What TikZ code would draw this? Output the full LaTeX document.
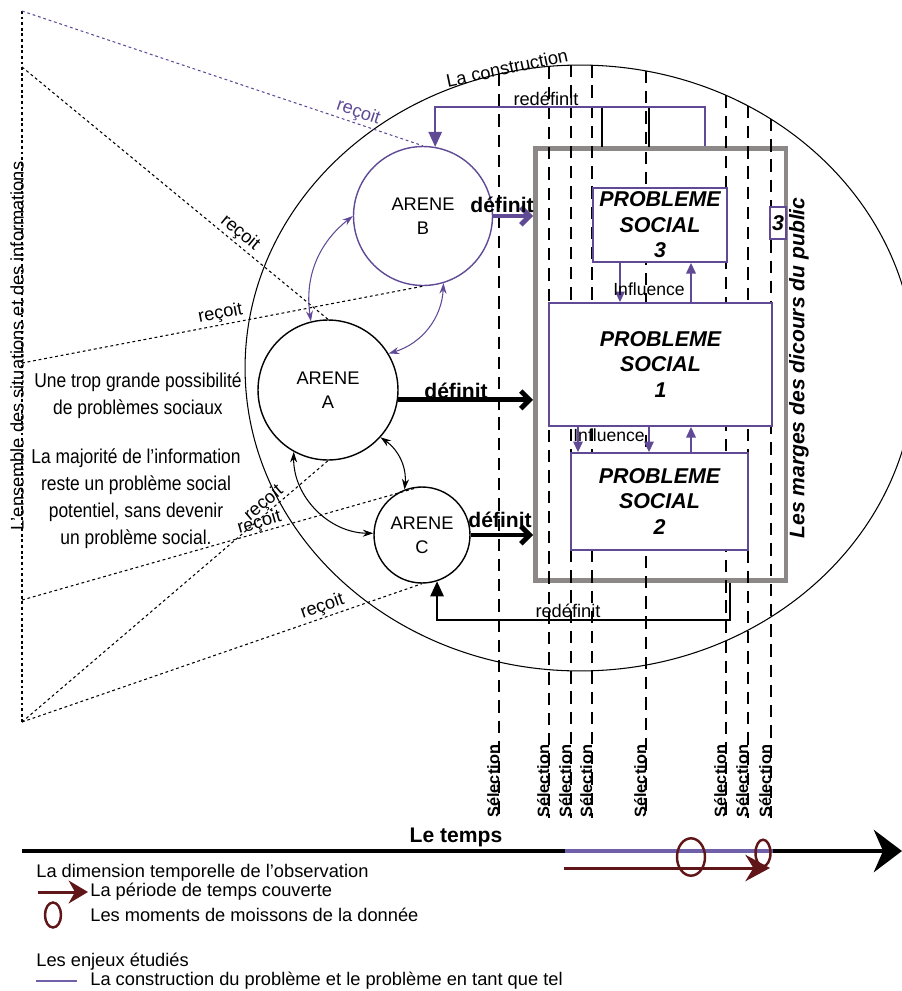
\documentclass[tikz,border=0pt]{standalone}
\usepackage{fontspec}
\setmainfont{Liberation Sans}
\newfontfamily\etroite[FakeStretch=0.87]{Liberation Sans}
\usetikzlibrary{arrows.meta}
\definecolor{mauve}{RGB}{96,74,150}
\definecolor{lilas}{RGB}{112,96,170}
\definecolor{bordeaux}{RGB}{96,22,24}
\definecolor{grisbord}{RGB}{140,136,136}
\newcommand{\fsz}[2]{\fontsize{#1}{#2}\selectfont}
\begin{document}
\begin{tikzpicture}[x=0.02cm, y=-0.02cm,
  arene/.style={circle, draw, fill=white, line width=0.8pt, inner sep=0pt, align=center, font=\fsz{10.4pt}{13.5pt}},
  probleme/.style={draw=mauve, fill=white, line width=1.1pt, align=center, inner sep=0pt, font=\bfseries\itshape\fsz{12.2pt}{14.5pt}},
  recu/.style={line width=0.6pt, dash pattern=on 1.6pt off 1.6pt},
  lbl/.style={font=\fsz{10.4pt}{12pt}, inner sep=1pt},
  gras/.style={font=\bfseries\fsz{12pt}{14pt}, inner sep=0pt},
  defin/.style={line width=2.8pt, -{Straight Barb[length=5pt,width=10pt]}},
  infl/.style={mauve, line width=0.6pt, -{Triangle[length=6pt,width=5.5pt]}},
  redef/.style={line width=1.1pt, -{Triangle[length=8.5pt,width=7.5pt]}},
  echange/.style={line width=0.6pt, <->, >={Stealth[length=6pt,width=4pt]}},
  selec/.style={line width=0.6pt, dash pattern=on 7pt off 4.5pt},
  legende/.style={anchor=west, inner sep=0pt, font=\fsz{10.4pt}{12pt}}]
\useasboundingbox (0,0) rectangle (902,991);
\clip (0,0) rectangle (902,991);

% la construction
\draw[line width=0.6pt] (580,368) ellipse [x radius=6.7cm, y radius=6.06cm];
\node[lbl, rotate=12] (constr) at (507,68) {La construction};

% marges du public
\node[draw=grisbord, line width=2.8pt, minimum width=5.01cm, minimum height=8.65cm, inner sep=0pt] (cadre) at (660.75,364.25) {};
\node[rotate=90, font=\bfseries\itshape\fsz{12pt}{14pt}] (marges) at (799,368) {Les marges des dicours du public};

% moments de selection
\foreach \x in {499,549,571,592,646,726,748,771} {
  \draw[selec] (\x,{368-303*sqrt(1-((\x-580)/335)^2)}) -- (\x,818);
  \node[rotate=90, anchor=base west, inner sep=0pt, font=\bfseries\fsz{9.3pt}{11pt}] (sel\x) at (\x,818) {Sélection};
}
\draw[line width=0.6pt] (602,107) -- (602,147);
\draw[line width=1.2pt] (649,107) -- (649,147);

% arenes
\node[arene, draw=mauve, minimum size=2.78cm] (B) at (423,216) {ARENE\\B};
\node[arene, minimum size=2.8cm] (A) at (328,390) {ARENE\\A};
\node[arene, minimum size=1.92cm] (C) at (422,535) {ARENE\\C};

% problemes
\node[probleme, minimum width=2.68cm, minimum height=1.48cm] (ps3) at (660,225) {PROBLEME\\SOCIAL\\3};
\node[probleme, minimum width=4.46cm, minimum height=2.46cm] (ps1) at (660.5,364.5) {PROBLEME\\SOCIAL\\1};
\node[probleme, minimum width=3.54cm, minimum height=1.94cm] (ps2) at (659.5,501.5) {PROBLEME\\SOCIAL\\2};
\node[probleme, minimum width=0.32cm, minimum height=0.64cm] (ps3m) at (778,223) {3};

% ensemble des situations
\coordinate (s1) at (22,11);
\coordinate (s2) at (22,67);
\coordinate (s3) at (22,363);
\coordinate (s4) at (22,600);
\coordinate (s5) at (22,722);
\draw[recu] (s1) -- (s5);
\node[lbl, rotate=90] (ensemble) at (17,346) {L’ensemble des situations et des informations};
\draw[recu, mauve] (s1) -- (B.north) node[lbl, pos=0.83, sloped, above] (r1) {reçoit};
\draw[recu] (s2) -- (A.north) node[lbl, pos=0.69, sloped, above] (r2) {reçoit};
\draw[recu] (s3) -- (B.south) node[lbl, pos=0.5, sloped, above] (r3) {reçoit};
\draw[recu] (s4) -- (C.north) node[lbl, pos=0.6, sloped, above=-1pt] (r4) {reçoit};
\draw[recu] (s5) -- (A.south) node[lbl, pos=0.81, sloped, above=-1pt] (r5) {reçoit};
\draw[recu] (s5) -- (C.south) node[lbl, pos=0.76, sloped, above] (r6) {reçoit};

\node[align=center, font=\etroite\fsz{11.4pt}{15.4pt}] (trop) at (138,396) {Une trop grande possibilité\\de problèmes sociaux};
\node[align=center, font=\etroite\fsz{11.4pt}{15.4pt}] (majorite) at (136,499) {La majorité de l’information\\reste un problème social\\potentiel, sans devenir\\un problème social.};

% echanges entre arenes
\draw[echange, mauve] (A.104) to[bend left=30] (B.180);
\draw[echange, mauve] (B.-73) to[bend left=35] (A.31);
\draw[echange] (A.-42) to[bend left=30] (C.111);
\draw[echange] (A.-119) to[bend right=45] (C.178);

% definit
\draw[defin, mauve] (B.east) -- (B.east -| cadre.west);
\draw[defin] (A.-8) -- (A.-8 -| cadre.west);
\draw[defin] (C.east) -- (C.east -| cadre.west);
\node[gras] (df1) at (502,205) {définit};
\node[gras] (df2) at (456,391) {définit};
\node[gras] (df3) at (500,520) {définit};

% influences
\draw[infl] (620,0 |- ps3.south) -- (620,0 |- ps1.north);
\draw[infl] (691,0 |- ps1.north) -- (691,0 |- ps3.south);
\draw[infl] (578,0 |- ps1.south) -- (578,0 |- ps2.north);
\draw[infl] (649,0 |- ps1.south) -- (649,0 |- ps2.north);
\draw[infl] (691,0 |- ps2.north) -- (691,0 |- ps1.south);
\node[lbl, font=\fsz{10pt}{12pt}] (inf1) at (649,289) {Influence};
\node[lbl, font=\fsz{10pt}{12pt}] (inf2) at (609,435) {Influence};

% redefinit
\draw[redef, mauve] (705,0 |- cadre.north) -- (705,107) -| (B.80);
\draw[redef] (730,0 |- cadre.south) -- (730,620) -| (C.-72);
\node[lbl] (rd1) at (546,99) {redéfinit};
\node[lbl] (rd2) at (568,611) {redéfinit};

% le temps
\coordinate (t0) at (22,851);
\coordinate (t1) at (902,851);
\draw[line width=2.8pt, -{Stealth[length=16pt,width=24pt]}] (t0) -- (t1);
\node[gras] (temps) at (456,837) {Le temps};
\draw[lilas, line width=2pt] (565,851) -- (773,851);
\draw[bordeaux, line width=1.7pt, -{Stealth[length=14pt,width=15pt]}] (564,868) -- (770,868);
\draw[bordeaux, line width=1.4pt] (691,857) ellipse [x radius=0.28cm, y radius=0.374cm];
\draw[bordeaux, line width=1.4pt] (763,853) ellipse [x radius=0.15cm, y radius=0.266cm];

% legende
\node[legende] (leg1) at (36,873) {La dimension temporelle de l’observation};
\draw[bordeaux, line width=1.7pt, -{Stealth[length=11pt,width=13pt]}] (38,892) -- (88,892);
\node[legende] (leg2) at (90,892) {La période de temps couverte};
\draw[bordeaux, line width=1.4pt] (53,915) ellipse [x radius=0.16cm, y radius=0.25cm];
\node[legende] (leg3) at (90,915) {Les moments de moissons de la donnée};
\node[legende] (leg4) at (36,962) {Les enjeux étudiés};
\draw[lilas, line width=1pt] (36,981) -- (77,981);
\node[legende] (leg5) at (90,981) {La construction du problème et le problème en tant que tel};
\end{tikzpicture}
\end{document}
